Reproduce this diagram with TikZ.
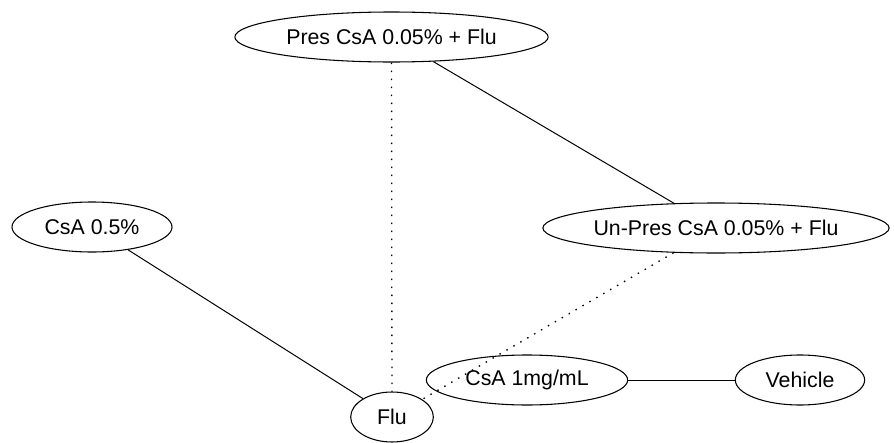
\documentclass[tikz,border=0pt]{standalone}
\usepackage{fontspec}
\setmainfont{Liberation Sans}
\usetikzlibrary{shapes.geometric}

\begin{document}
\begin{tikzpicture}[x=0.75pt,y=0.75pt,yscale=-1,xscale=1,
  trt/.style={draw, ellipse, inner sep=0pt, line width=0.8pt, minimum height=37.5pt, font=\fontsize{16}{19}\selectfont},
  link/.style={line width=0.75pt},
  dotlink/.style={line width=1pt, dash pattern=on 1.1pt off 4.9pt}]
%set diagram left start at 0, and has height of 443
\useasboundingbox (0,0) rectangle (894,443);

% Ellipse Nodes
\node [trt, minimum width=235pt] (pres) at (391.5,37) {Pres CsA 0.05\% + Flu};
\node [trt, minimum width=120pt] (csa5) at (92,227) {CsA 0.5\%};
\node [trt, minimum width=251pt] (unpres) at (716,228) {Un-Pres CsA 0.05\% + Flu};
\node [trt, minimum width=151pt] (csa1) at (527,380) {CsA 1mg/mL};
\node [trt, minimum width=97pt] (veh) at (800,380) {Vehicle};
\node [trt, minimum width=62pt] (flu) at (392,417) {Flu};

% Lines
\draw [dotlink] (pres) -- (flu);
\draw [link] (pres) -- (unpres);
\draw [link] (csa5) -- (flu);
\draw [dotlink] (unpres) -- (flu);
\draw [link] (csa1) -- (veh);

\end{tikzpicture}
\end{document}
